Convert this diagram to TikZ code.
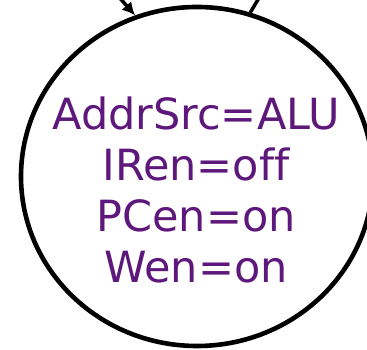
\documentclass[tikz,border=0pt]{standalone}
\usepackage{fontspec}
\setmainfont{DejaVu Sans}[Ligatures=NoCommon]
\usetikzlibrary{shapes.geometric,arrows.meta}
\definecolor{statepurple}{RGB}{94,24,124}

\begin{document}
\begin{tikzpicture}[x=1pt,y=1pt]
        \clip (0,0) rectangle (367,350);
        \node[shape=ellipse,draw=black,line width=4.6pt,minimum width=352pt,minimum height=339pt,inner sep=0pt] (S) at (197,173.5) {};
        \node[text=statepurple,align=center,font=\fontsize{43}{51}\selectfont] (T) at (196,160) {AddrSrc=ALU\\IRen=off\\PCen=on\\Wen=on};

        \coordinate (in) at (114.5,358);
        \coordinate (out) at (262.5,358);

        \path [-{Latex[length=13pt,width=13pt]},line width=3.5pt] (in) edge node {} (S.111);
        \path [-,line width=3.5pt] (S.72) edge node {} (out);
    \end{tikzpicture}
\end{document}
